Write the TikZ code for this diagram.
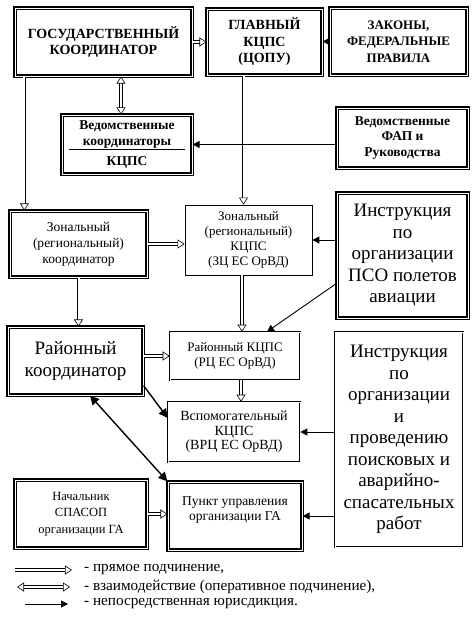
\documentclass[tikz,border=0pt]{standalone}
\usepackage{fontspec}
\setmainfont{Liberation Serif}
\usetikzlibrary{arrows.meta}
\usetikzlibrary{calc}

\newcommand{\capsfont}{\fontsize{14}{16.5}\selectfont\bfseries}
\newcommand{\boldtxt}{\fontsize{13.5}{15.5}\selectfont\bfseries}
\newcommand{\midtxt}{\fontsize{13.5}{16}\selectfont}
\newcommand{\smalltxt}{\fontsize{13}{15}\selectfont}
\newcommand{\bigtxt}{\fontsize{19}{21.5}\selectfont}
\newcommand{\legtxt}{\fontsize{15.2}{17}\selectfont}

\tikzset{
  heavybox/.style={draw, line width=1.2pt, double, double distance=0.9pt, align=center, inner sep=1pt, fill=white},
  thinbox/.style={draw, line width=0.8pt, align=center, inner sep=1pt, fill=white},
  midbox/.style={draw, line width=0.6pt, double, double distance=0.7pt, align=center, inner sep=1pt, fill=white},
  hollow/.style={line width=0.6pt, double, double distance=2pt,
    -{Triangle[open, length=7pt, width=9pt, line width=0.6pt]}},
  hollowboth/.style={line width=0.6pt, double, double distance=2pt,
    {Triangle[open, length=7pt, width=9pt, line width=0.6pt]}-{Triangle[open, length=7pt, width=9pt, line width=0.6pt]}},
  jur/.style={line width=0.9pt, -{Triangle[length=7pt, width=7pt]}},
  jurdbl/.style={line width=1.4pt, -{Triangle[length=9pt, width=9pt]}},
  jurdblboth/.style={line width=1.4pt, {Triangle[length=9pt, width=9pt]}-{Triangle[length=9pt, width=9pt]}}
}

\begin{document}
\begin{tikzpicture}[x=1pt, y=-1pt]
  \useasboundingbox (0,0) rectangle (474,623);

  \node[heavybox, minimum width=177pt, minimum height=68pt, font=\capsfont] (gos) at (103.5,42) {ГОСУДАРСТВЕННЫЙ\\КООРДИНАТОР};
  \node[heavybox, minimum width=115pt, minimum height=66pt, font=\capsfont] (glav) at (264.5,42) {ГЛАВНЫЙ\\КЦПС\\(ЦОПУ)};
  \node[heavybox, minimum width=137pt, minimum height=67pt, font=\fontsize{13}{16.5}\selectfont\bfseries] (zak) at (398.5,41.5) {ЗАКОНЫ,\\ФЕДЕРАЛЬНЫЕ\\ПРАВИЛА};
  \node[heavybox, minimum width=130pt, minimum height=59pt, font=\boldtxt] (vedk) at (127,144.5) {Ведомственные\\координаторы\\[-11pt]\rule{116pt}{0.7pt}\\КЦПС};
  \node[heavybox, minimum width=131pt, minimum height=60pt, font=\boldtxt] (vedf) at (402.5,138) {Ведомственные\\ФАП и\\Руководства};
  \node[heavybox, minimum width=137pt, minimum height=66pt, font=\midtxt] (zonk) at (78.5,244) {Зональный\\(региональный)\\координатор};
  \node[thinbox, minimum width=127pt, minimum height=70pt, font=\smalltxt] (zonc) at (248.5,240) {Зональный\\(региональный)\\КЦПС\\(ЗЦ ЕС ОрВД)};
  \node[heavybox, minimum width=131pt, minimum height=125pt, font=\bigtxt] (instra) at (402.5,255.5) {Инструкция\\по\\организации\\ПСО полетов\\авиации};
  \node[heavybox, minimum width=135pt, minimum height=68pt, font=\fontsize{19}{22}\selectfont] (raik) at (75.5,361) {Районный\\координатор};
  \node[midbox, minimum width=130pt, minimum height=48pt, font=\smalltxt] (raic) at (235,356) {Районный КЦПС\\(РЦ ЕС ОрВД)};
  \node[midbox, minimum width=128pt, minimum height=215pt, font=\bigtxt] (instrb) at (399,439.5) {Инструкция\\по\\организации\\и\\проведению\\поисковых и\\аварийно-\\спасательных\\работ};
  \node[midbox, minimum width=132pt, minimum height=60pt, font=\fontsize{14}{14.5}\selectfont] (vspom) at (234,432) {Вспомогательный\\КЦПС\\(ВРЦ ЕС ОрВД)};
  \node[heavybox, minimum width=132pt, minimum height=68pt, font=\fontsize{12.5}{16.5}\selectfont] (nach) at (81,514) {Начальник\\СПАСОП\\организации ГА};
  \node[heavybox, minimum width=134pt, minimum height=68pt, font=\fontsize{13.5}{15}\selectfont] (punkt) at (235,516) {Пункт управления\\организации ГА\\~};

  \draw[hollow] (gos.east) -- (gos.east -| glav.west);
  \draw[hollowboth] ([xshift=-6pt]vedk.north |- gos.south) -- ([xshift=-6pt]vedk.north);
  \draw[hollow] ([xshift=10pt]gos.south west) -- ([xshift=10pt]gos.south west |- zonk.north);
  \draw[hollow] ([xshift=-5pt]zonc.north |- glav.south) -- ([xshift=-5pt]zonc.north);
  \draw[jur] (zak.west) -- (zak.west -| glav.east);
  \draw[jur] (vedk.east -| vedf.west) -- (vedk.east);
  \draw[hollow] (zonk.east) -- (zonk.east -| zonc.west);
  \draw[hollow] (zonk.south) -- (zonk.south |- raik.north);
  \draw[jur] (zonc.east -| instra.west) -- (zonc.east);
  \draw[jur] ([yshift=-28pt]instra.west) -- ([xshift=32pt]raic.north);
  \draw[hollow] ([xshift=-6.5pt]zonc.south) -- ([xshift=-6.5pt]zonc.south |- raic.north);
  \draw[hollow] (raic.west -| raik.east) -- (raic.west);
  \draw[hollow] ([xshift=6pt]raic.south) -- ([xshift=6pt]raic.south |- vspom.north);
  \draw[jurdbl] ([yshift=10pt]raik.south east) -- ([yshift=14pt]vspom.west);
  \draw[jurdblboth] ([xshift=14.5pt]raik.south) -- (punkt.north west);
  \draw[hollow] (nach.east) -- (nach.east -| punkt.west);
  \draw[jur] (vspom.east -| instrb.west) -- (vspom.east);
  \draw[jur] (punkt.east -| instrb.west) -- (punkt.east);

  \coordinate (lega) at (15,570);
  \coordinate (legb) at (17,587);
  \coordinate (legc) at (25,604);
  \draw[hollow] (lega) -- +(57,0);
  \draw[hollowboth] (legb) -- +(53,0);
  \draw[jur] (legc) -- +(43,0);
  \node[anchor=west, font=\legtxt, inner sep=0pt] (ta) at (84,570) {- прямое подчинение,};
  \node[anchor=west, font=\legtxt, inner sep=0pt] (tb) at (84,587) {- взаимодействие (оперативное подчинение),};
  \node[anchor=west, font=\legtxt, inner sep=0pt] (tc) at (84,604) {- непосредственная юрисдикция.};
\end{tikzpicture}
\end{document}
